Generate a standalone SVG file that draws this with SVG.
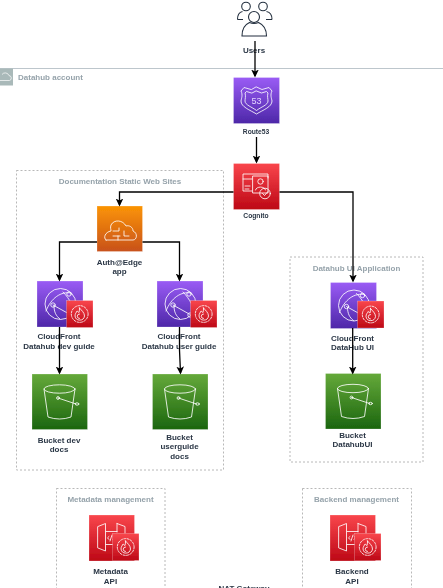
<svg xmlns="http://www.w3.org/2000/svg" width="443" height="588" viewBox="0 0 443 588">
<style>
text{font-family:"Liberation Sans",Arial,sans-serif;font-size:8px;fill:#2b3746;text-anchor:middle;dominant-baseline:central;font-weight:700}
.g{fill:#96a3ab;font-size:8px}
.sm{font-size:6.7px}
.grp{fill:none;stroke:#a6a6a6;stroke-width:.8;stroke-dasharray:2 2}
.c{fill:none;stroke:#000;stroke-width:1.3}
.i{fill:none;stroke:#fff;stroke-width:.9;stroke-opacity:.92;stroke-linejoin:round;stroke-linecap:round}
.edge{stroke-width:.6;stroke-opacity:.4;stroke:#fff}
</style>
<defs>
<linearGradient id="pur" x1="0" y1="1" x2="0" y2="0"><stop offset="0" stop-color="#4d27a8"/><stop offset="1" stop-color="#9a5cf5"/></linearGradient>
<linearGradient id="red" x1="0" y1="1" x2="0" y2="0"><stop offset="0" stop-color="#bd0816"/><stop offset="1" stop-color="#f9464c"/></linearGradient>
<linearGradient id="org" x1="0" y1="1" x2="0" y2="0"><stop offset="0" stop-color="#c8511b"/><stop offset="1" stop-color="#fb9404"/></linearGradient>
<linearGradient id="grn" x1="0" y1="1" x2="0" y2="0"><stop offset="0" stop-color="#1b660f"/><stop offset="1" stop-color="#65a93a"/></linearGradient>
<marker id="a" markerWidth="9" markerHeight="9" refX="6.5" refY="4" orient="auto" markerUnits="userSpaceOnUse"><path d="M0 0.2L8 4L0 7.8L2 4Z" fill="#000"/></marker>
<filter id="b" x="-2%" y="-2%" width="104%" height="104%"><feGaussianBlur stdDeviation="0.45"/></filter>
<g id="cf">
<rect width="46" height="46" fill="url(#pur)" class="edge"/>
<circle cx="23.500" cy="23" r="15.500" class="i"/>
<path class="i" d="M9 30C14 17 24 10 34 12M16 24L34 34M26 11C33 18 37 27 38 32M17 25C17 31 19 35 23 38"/>
<circle cx="16" cy="24" r="2.200" class="i"/><circle cx="32" cy="13" r="2.200" class="i"/><circle cx="33" cy="34" r="2.200" class="i"/>
</g>
<g id="waf">
<rect width="26.500" height="27" fill="url(#red)" class="edge"/>
<circle cx="13.200" cy="13.500" r="8.400" class="i" stroke-dasharray="2 1.400"/>
<path class="i" d="M13 7.500C15 10 18 12 18 15.500A4.800 4.800 0 0 1 8.500 15.500C8.500 13 10 12 10.500 10.500C11.500 11 12 12 12.500 12C13 10.500 13 9 13 7.500Z"/>
<path class="i" d="M13 18A2 2 0 0 1 13 13.500"/>
</g>
<g id="bucket">
<rect width="55.500" height="55.500" fill="url(#grn)" class="edge"/>
<ellipse cx="27.500" cy="15" rx="15.500" ry="4.200" class="i"/>
<path class="i" d="M12 15L16 43Q27.500 47 39 43L43 15"/>
<path class="i" d="M26 24L44 30"/>
<circle cx="26" cy="24" r="1.400" class="i"/><ellipse cx="45" cy="30" rx="1.800" ry="1.200" class="i"/>
</g>
<g id="api">
<rect width="45.500" height="46" fill="url(#red)" class="edge"/>
<path class="i" d="M9 11.500L16.500 8.500V36L9 33ZM28 8.500L36 11.500V18M28 8.500V17M17 16.500H28M17 29.500H27" stroke-dasharray="none"/>
<path class="i" d="M20 24.500L18.500 22.800L20 21.500M24 24.500L25.500 22.800L24 21.500M23 20L21 26"/>
</g>
</defs>
<rect width="443" height="588" fill="#fff"/>
<g filter="url(#b)">
<g id="account">
<path d="M0 68.500H443" stroke="#b5c0c6" stroke-width=".9"/>
<rect x="0" y="68.500" width="13" height="17" fill="#a9b9b9"/>
<path d="M0 80.500H9.500A2.500 2.500 0 0 0 9 75.600A4 4 0 0 0 2 74.500" fill="none" stroke="#fff" stroke-width=".7"/>
<text class="g" x="18" y="77.500" style="text-anchor:start">Datahub account</text>
</g>
<g id="group-docs"><rect class="grp" x="16.500" y="170.500" width="207" height="299.500"/><text class="g" x="120" y="181">Documentation Static Web Sites</text></g>
<g id="group-ui"><rect class="grp" x="290" y="257" width="133" height="205"/><text class="g" x="356.500" y="268">Datahub UI Application</text></g>
<g id="group-metadata"><rect class="grp" x="56.500" y="488.500" width="108.500" height="120"/><text class="g" x="110.500" y="499">Metadata management</text></g>
<g id="group-backend"><rect class="grp" x="302.500" y="488.500" width="109" height="120"/><text class="g" x="356.500" y="499">Backend management</text></g>
<g id="users">
<g fill="none" stroke="#232f3e" stroke-width="1.100">
<circle cx="246" cy="6.500" r="4.300"/><circle cx="263" cy="6.500" r="4.300"/>
<path d="M237.500 19.500C237.500 14.500 240 12 242.500 11.500M272 19.500C272 14.500 269.500 12 266.500 11.500M237.500 19.500H243M272 19.500H266"/>
<circle cx="254" cy="17" r="5.500" fill="#fff"/>
<path d="M242 36C242 28 245 24.500 249.500 22.500Q254 24.500 258.500 22.500C263 24.500 266.500 28 266.500 36Z" fill="#fff"/>
</g>
<text x="254" y="50">Users</text>
</g>
<g id="route53">
<rect x="233.500" y="77.500" width="46" height="46" fill="url(#pur)" class="edge"/>
<path class="i" d="M256.500 87L262 89.500L269 87.500L272 91C270 95 271.500 98 272 101C272 107 263 110 256.500 114C250 110 241 107 241 101C241.500 98 243 95 241 91L244 87.500L251 89.500Z"/>
<path class="i" d="M256.500 91L261.500 93L266.500 91.500L268 93C267 96 268 99 268 101C268 105 261 107 256.500 110.500C252 107 245 105 245 101C245 99 246 96 245 93L246.500 91.500L251.500 93Z"/>
<text x="256.500" y="101" style="fill:#e3d5ff;font-size:9px;font-weight:400">53</text>
<text class="sm" x="256" y="131">Route53</text>
</g>
<g id="cognito">
<rect x="233.500" y="163.500" width="46" height="46" fill="url(#red)" class="edge"/>
<path class="i" d="M252 191H243V174H268V178M243 179H252M245 186H250M245 189H249"/>
<rect x="253" y="176" width="15" height="17" class="i"/>
<circle cx="260.500" cy="181.500" r="2.700" class="i"/><path class="i" d="M255.500 190C256 186 265 186 265.500 190"/>
<circle cx="265" cy="193.500" r="5.300" class="i" fill="#d22b35"/><path class="i" d="M262.500 193.500L264.500 195.500L268 191.500"/>
<text class="sm" x="256" y="215">Cognito</text>
</g>
<g id="auth-edge">
<rect x="97" y="206" width="45.500" height="45.500" fill="url(#org)" class="edge"/>
<path class="i" d="M106 240H133C137 240 138 233 133 231C133 227 129 225 126 226C123 220 114 219 111 225C110 228 111 229 111 231C105 232 103 238 106 240ZM113 231H119V228M124 231V236H129M118 236V240M113 236H120"/>
<text x="119.500" y="262">Auth@Edge</text><text x="119.500" y="271.500">app</text>
</g>
<g id="cf-dev"><use href="#cf" x="37" y="281"/><use href="#waf" x="66.500" y="300.500"/><text x="59" y="336.500">CloudFront</text><text x="59" y="346">Datahub dev guide</text></g>
<g id="cf-user"><use href="#cf" x="157" y="281"/><use href="#waf" x="190.500" y="300.500"/><text x="179" y="336.500">CloudFront</text><text x="179" y="346">Datahub user guide</text></g>
<g id="cf-ui"><use href="#cf" x="330.500" y="282.500"/><use href="#waf" x="357.500" y="301"/><text x="352.500" y="338">CloudFront</text><text x="352.500" y="347">DataHub UI</text></g>
<g id="bucket-dev"><use href="#bucket" x="32" y="374"/><text x="59" y="440">Bucket dev</text><text x="59" y="449">docs</text></g>
<g id="bucket-user"><use href="#bucket" x="152.500" y="374"/><text x="179.500" y="437">Bucket</text><text x="179.500" y="446.500">userguide</text><text x="179.500" y="456">docs</text></g>
<g id="bucket-ui"><use href="#bucket" x="325.500" y="373.500"/><text x="352.500" y="435">Bucket</text><text x="352.500" y="444">DatahubUI</text></g>
<g id="api-metadata"><use href="#api" x="89" y="515"/><use href="#waf" x="112.500" y="533.500"/><text x="110.500" y="571">Metadata</text><text x="110.500" y="581">API</text></g>
<g id="api-backend"><use href="#api" x="330" y="515"/><use href="#waf" x="354.500" y="533.500"/><text x="352" y="571">Backend</text><text x="352" y="581">API</text></g>
<g id="nat-gateway"><text x="244" y="588.500">NAT Gateway</text></g>
<g id="connectors">
<path class="c" marker-end="url(#a)" d="M255 41V76"/>
<path class="c" marker-end="url(#a)" d="M256.500 137V162"/>
<path class="c" marker-end="url(#a)" d="M233.500 192H119.500V205"/>
<path class="c" marker-end="url(#a)" d="M279.500 192H353V281"/>
<path class="c" marker-end="url(#a)" d="M97 242H59.500V280"/>
<path class="c" marker-end="url(#a)" d="M142.500 242H179.500V280"/>
<path class="c" marker-end="url(#a)" d="M59.500 327V373"/>
<path class="c" marker-end="url(#a)" d="M179.500 327V350L180.500 373"/>
<path class="c" marker-end="url(#a)" d="M352.700 328V373"/>
</g>
</g>
</svg>
